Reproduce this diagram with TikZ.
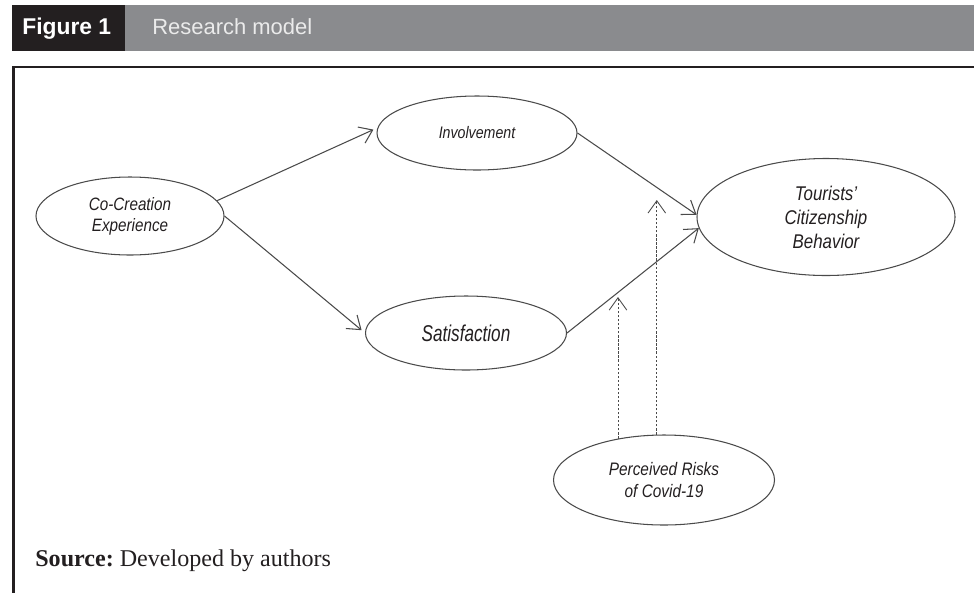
\documentclass[tikz,border=0pt]{standalone}
\usepackage{fontspec}
\setmainfont{Liberation Serif}
\newfontfamily\headfont{Liberation Sans}
\newfontfamily\modelfont[FakeStretch=0.85]{Liberation Sans}
\newfontfamily\tallfont[FakeStretch=0.75]{Liberation Sans}
\usetikzlibrary{shapes.geometric,arrows.meta}
\definecolor{bandgrey}{HTML}{8A8B8E}
\definecolor{boxblack}{HTML}{231F20}
\definecolor{linegrey}{HTML}{4A4A4A}
\begin{document}
\begin{tikzpicture}[x=0.2mm,y=-0.2mm,
  construct/.style={ellipse, draw=linegrey, line width=0.6pt, inner sep=0pt, align=center, text=boxblack},
  effect/.style={draw=linegrey, line width=0.6pt, -{Straight Barb[length=7pt,width=10pt]}},
  moderate/.style={effect, line width=0.5pt, dash pattern=on 1.3pt off 1pt}]
\useasboundingbox (0,0) rectangle (974,595);
\fill[bandgrey] (12,5) rectangle (974,51);
\fill[boxblack] (12,5) rectangle (125,51);
\node[anchor=base west, inner sep=0pt, text=white, font=\headfont\bfseries\fontsize{13}{15}\selectfont] (fig) at (22,34) {Figure 1};
\node[anchor=base west, inner sep=0pt, text=white!92!black, font=\headfont\fontsize{12.5}{15}\selectfont] (title) at (152,34) {Research model};
\draw[boxblack, line width=1.7pt] (974,67) -- (13.5,67) -- (13.5,593);
\node[construct, minimum width=37.6mm, minimum height=15.6mm, font=\modelfont\itshape\fontsize{10.2}{12}\selectfont] (cocreation) at (130,216) {Co-Creation\\Experience};
\node[construct, minimum width=40mm, minimum height=14.8mm, font=\modelfont\itshape\fontsize{9.5}{12}\selectfont] (involvement) at (477,133) {Involvement};
\node[construct, minimum width=40.2mm, minimum height=14.8mm, font=\tallfont\itshape\fontsize{13}{15}\selectfont] (satisfaction) at (466,333) {Satisfaction};
\node[construct, minimum width=51.6mm, minimum height=23.4mm, font=\modelfont\itshape\fontsize{11.3}{13.6}\selectfont] (tourists) at (826,217) {Tourists’\\Citizenship\\Behavior};
\node[construct, minimum width=44.2mm, minimum height=18mm, font=\modelfont\itshape\fontsize{10.3}{13}\selectfont] (risk) at (664,480) {Perceived Risks\\of Covid-19};
\node[anchor=base west, inner sep=0pt, text=boxblack, font=\fontsize{13.7}{16}\selectfont] (source) at (35,566) {\textbf{Source:}\ Developed by authors};
\draw[effect, shorten >=2.5pt] (cocreation.10) -- (involvement.177);
\draw[effect, shorten >=2.5pt] (cocreation.east) -- (satisfaction.180);
\draw[effect] (involvement.east) -- (tourists.179);
\draw[effect] (satisfaction.east) -- (tourists.185);
\coordinate (m1) at (618,297);
\coordinate (m2) at (657,200);
\draw[moderate] (risk.138) -- (risk.138 |- m1);
\draw[moderate] (risk.99) -- (risk.99 |- m2);
\end{tikzpicture}
\end{document}
